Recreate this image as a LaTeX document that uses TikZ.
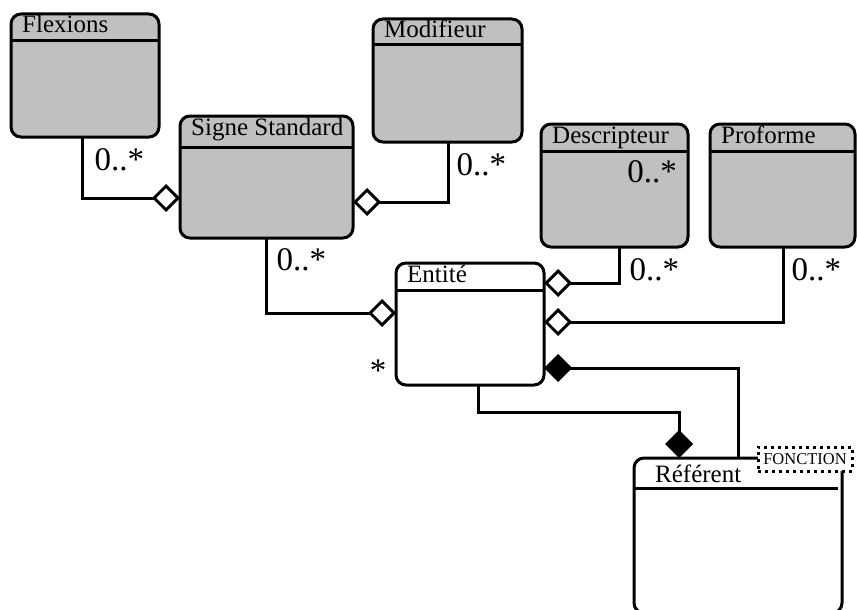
\documentclass[tikz,border=0pt]{standalone}
\usepackage{fontspec}
\setmainfont{Liberation Serif}
\usetikzlibrary{arrows.meta,positioning}
\definecolor{grisclasse}{HTML}{C0C0C0}
\tikzset{
    classe/.style={draw,line width=3pt,rounded corners=10pt,fill=grisclasse,inner sep=0pt,outer sep=0pt},
    classeblanche/.style={classe,fill=white},
    titre/.style={inner sep=0pt,font=\fontsize{25}{28}\selectfont},
    multi/.style={inner sep=2pt,font=\fontsize{33}{36}\selectfont},
    separation/.style={line width=3pt},
    agregation/.style={draw,line width=3pt,-{Diamond[fill=white,length=28pt,width=28pt]}},
    composition/.style={draw,line width=3pt,-{Diamond[length=28pt,width=28pt]}},
    fonction/.style={draw,line width=3pt,dash pattern=on 3pt off 4pt,fill=white,inner sep=0pt,minimum width=94pt,minimum height=24pt,font=\fontsize{16.5}{18}\selectfont},
}

\begin{document}
\begin{tikzpicture}[x=1pt,y=-1pt]
    \path[use as bounding box,clip] (0,0) rectangle (857,610);
    % classes
    \node[classe,minimum width=148pt,minimum height=123pt] (flexions) at (85,75.5) {};
    \node[classe,minimum width=149pt,minimum height=123pt] (modifieur) at (447.5,80.5) {};
    \node[classe,minimum width=173pt,minimum height=122pt] (signe) at (266.5,177) {};
    \node[classe,minimum width=147pt,minimum height=123pt] (descripteur) at (614.5,185.5) {};
    \node[classe,minimum width=145pt,minimum height=123pt,right=22pt of descripteur] (proforme) {};
    \node[classeblanche,minimum width=148pt,minimum height=122pt] (entite) at (470,324) {};
    \node[classeblanche,minimum width=208pt,minimum height=155pt] (referent) at (738,535.5) {};
    % titres
    \foreach \nom/\texte/\decal in {flexions/Flexions/27,modifieur/Modifieur/26,signe/Signe Standard/31,descripteur/Descripteur/27,proforme/Proforme/27,entite/Entité/27}{
        \node[titre,anchor=base west] (\nom-titre) at ([shift={(11pt,-19pt)}]\nom.north west) {\texte};
        \draw[separation] ([yshift=-\decal pt]\nom.north west) -- ([yshift=-\decal pt]\nom.north east);
    }
    \node[titre,anchor=base west] (referent-titre) at ([shift={(21pt,-24pt)}]referent.north west) {Référent};
    \draw[separation] ([yshift=-30pt]referent.north west) -- ([shift={(-4pt,-30pt)}]referent.north east);
    \node[fonction] (fonction) at ([shift={(67pt,-1pt)}]referent.north) {FONCTION};
    \node[multi,anchor=north east] (m-interne) at ([shift={(-9pt,-34pt)}]descripteur.north east) {0..*};
    % associations
    \draw[agregation] ([xshift=-3pt]flexions.south) |- node[multi,pos=0,anchor=north west,xshift=9pt,yshift=-8pt] (m-flexions) {0..*} ([yshift=-21pt]signe.west);
    \draw[agregation] ([xshift=0.5pt]modifieur.south) |- node[multi,pos=0,anchor=north west,xshift=5pt,yshift=-8pt] (m-modifieur) {0..*} ([yshift=-25pt]signe.east);
    \draw[agregation] ([xshift=-0.5pt]signe.south) |- node[multi,pos=0,anchor=north west,xshift=7pt,yshift=-7pt] (m-signe) {0..*} ([yshift=11pt]entite.west);
    \draw[agregation] ([xshift=4.5pt]descripteur.south) |- node[multi,pos=0,anchor=north west,xshift=7pt,yshift=-8pt] (m-descripteur) {0..*} ([yshift=41pt]entite.east);
    \draw[agregation] ([xshift=0.5pt]proforme.south) |- node[multi,pos=0,anchor=north west,xshift=5pt,yshift=-8pt] (m-proforme) {0..*} ([yshift=2pt]entite.east);
    \draw[composition] (referent.north) |- ([yshift=-44pt]entite.east);
    \draw[composition] ([xshift=8pt]entite.south) -- ++(0,27) -| ([xshift=-59pt]referent.north);
    \node[multi,anchor=base east] (m-entite) at ([shift={(-7.5pt,-57pt)}]entite.west) {*};
\end{tikzpicture}
\end{document}
